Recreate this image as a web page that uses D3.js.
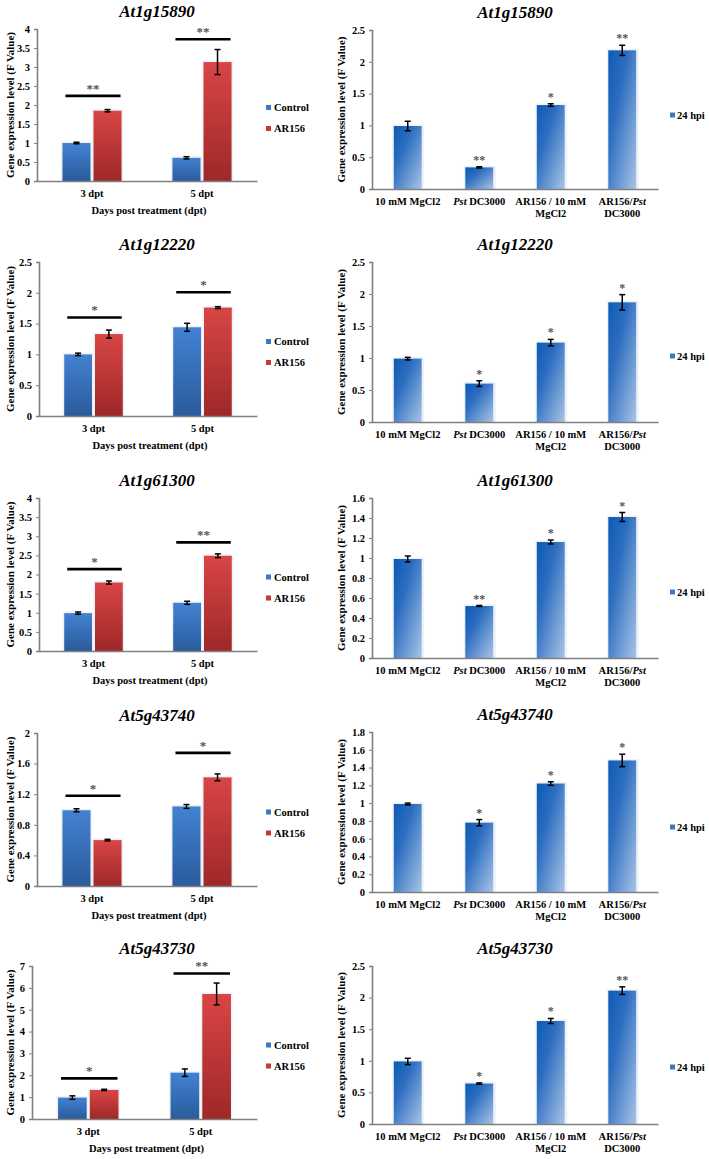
<!DOCTYPE html>
<html><head><meta charset="utf-8">
<script src="https://cdn.jsdelivr.net/npm/d3@7"></script>
<style>
html,body{margin:0;padding:0;background:#fff;}
svg{display:block;font-family:"Liberation Serif","Times New Roman",serif;font-weight:bold;}
</style></head>
<body>
<svg id="chart" width="709" height="1159"></svg>
<script>
// ---------- data ----------
const genes = ["At1g15890","At1g12220","At1g61300","At5g43740","At5g43730"];
const dptCategories = ["3 dpt","5 dpt"];
const seriesNames = ["Control","AR156"];
const controlMeans  = [[1.00,0.61],[1.00,1.44],[0.99,1.26],[0.99,1.04],[0.98,2.12]];
const controlErrors = [[0.02,0.03],[0.02,0.065],[0.03,0.04],[0.02,0.025],[0.08,0.17]];
const ar156Means    = [[1.85,3.13],[1.33,1.76],[1.79,2.49],[0.60,1.42],[1.33,5.72]];
const ar156Errors   = [[0.03,0.33],[0.065,0.015],[0.04,0.05],[0.01,0.045],[0.03,0.50]];
const sigLevels     = [[2.24,3.73],[1.60,2.01],[2.14,2.84],[1.18,1.74],[1.86,6.66]];
const sigLabels     = [["**","**"],["*","*"],["*","**"],["*","*"],["*","**"]];
const leftYMax      = [4,2.5,4,2,7];
const leftYStep     = [0.5,0.5,0.5,0.4,1];
const leftYTitle = "Gene expression level (F Value)";
const leftXTitle = "Days post treatment (dpt)";

const treatments = [["10 mM MgCl2"],["Pst DC3000"],["AR156 / 10 mM","MgCl2"],["AR156/Pst","DC3000"]];
const hpiSeries = "24 hpi";
const hpiMeans  = [[0.99,0.34,1.32,2.18],[0.99,0.60,1.24,1.87],[0.99,0.52,1.16,1.41],[0.99,0.78,1.22,1.48],[0.99,0.64,1.63,2.11]];
const hpiErrors = [[0.075,0.01,0.02,0.08],[0.02,0.045,0.05,0.12],[0.03,0.005,0.02,0.045],[0.01,0.035,0.02,0.07],[0.05,0.01,0.04,0.06]];
const hpiStars  = [["","**","*","**"],["","*","*","*"],["","**","*","*"],["","*","*","*"],["","*","*","**"]];
const rightYMax  = [2.5,2.5,1.6,1.8,2.5];
const rightYStep = [0.5,0.5,0.2,0.2,0.5];

// ---------- layout ----------
const leftTop    = [29,262,498,733,966];
const leftBottom = [181,416,651,886,1119];
const leftX0     = [37,39,39,37,32];
const leftX1 = 257;
const rightTop    = [30,262,498,732,966];
const rightBottom = [189,422,658,892,1124];
const rightX0 = 372, rightX1 = 658;
const rightLegendY = [115,356,592,827,1067];
const FONT = "Liberation Serif, Times New Roman, serif";

const svg = d3.select("#chart");
const defs = svg.append("defs");
function vgrad(id, top, bottom){
  const g = defs.append("linearGradient").attr("id",id).attr("x1",0).attr("y1",0).attr("x2",0).attr("y2",1);
  g.append("stop").attr("offset","0%").attr("stop-color",top);
  g.append("stop").attr("offset","100%").attr("stop-color",bottom);
}
vgrad("gBlue","#4282d2","#2a5b9c");
vgrad("gRed","#d94545","#9e2828");
const dg = defs.append("linearGradient").attr("id","gDiag").attr("x1",0).attr("y1",0).attr("x2",1).attr("y2",1);
dg.append("stop").attr("offset","0%").attr("stop-color","#0c5bb4");
dg.append("stop").attr("offset","35%").attr("stop-color","#2c6dc0");
dg.append("stop").attr("offset","100%").attr("stop-color","#a9c4e6");

const axisColor = "#808080";
const fmt = d => (+d.toFixed(2)).toString();

function styleAxis(g){
  g.attr("font-family",FONT).attr("font-size",null);
  g.selectAll("path.domain").attr("stroke",axisColor).attr("stroke-width",1.6);
  g.selectAll(".tick line").attr("stroke",axisColor).attr("stroke-width",1);
  g.selectAll(".tick text").attr("fill","#000").attr("font-size",10.5).attr("font-weight","bold")
    .attr("font-family",FONT);
}

function errorBar(g, cx, yv, err, y, capW){
  const top = y(yv+err), bot = y(Math.max(0,yv-err));
  g.append("line").attr("x1",cx).attr("x2",cx).attr("y1",top).attr("y2",bot).attr("stroke","#000").attr("stroke-width",1.5);
  [top,bot].forEach(v=>g.append("line").attr("x1",cx-capW).attr("x2",cx+capW).attr("y1",v).attr("y2",v).attr("stroke","#000").attr("stroke-width",1.5));
}

function title(x, y, text){
  svg.append("text").attr("x",x).attr("y",y).attr("text-anchor","middle")
    .attr("font-size",17).attr("font-style","italic").attr("font-weight","bold").text(text);
}

function yTitle(x, cy){
  svg.append("text").attr("transform",`translate(${x},${cy}) rotate(-90)`).attr("text-anchor","middle")
    .attr("dominant-baseline","central").attr("font-size",11).text(leftYTitle);
}

genes.forEach((gene,i)=>{
  // ----- left panel -----
  const y = d3.scaleLinear().domain([0,leftYMax[i]]).range([leftBottom[i],leftTop[i]]);
  const x0 = d3.scaleBand().domain(dptCategories).range([leftX0[i],leftX1]);
  const x1 = d3.scaleBand().domain(seriesNames).range([0,x0.bandwidth()]).paddingInner(0.097).paddingOuter(0.82);
  const ticks = d3.range(0, leftYMax[i]+1e-9, leftYStep[i]);
  const gL = svg.append("g");
  const barsG = gL.append("g");
  dptCategories.forEach((cat,ci)=>{
    const vals = [controlMeans[i][ci], ar156Means[i][ci]];
    const errs = [controlErrors[i][ci], ar156Errors[i][ci]];
    seriesNames.forEach((s,si)=>{
      const bx = x0(cat)+x1(s), bw = x1.bandwidth();
      barsG.append("rect").attr("x",bx-1.5).attr("y",y(vals[si])-1.5).attr("width",bw+3).attr("height",y(0)-y(vals[si])+1.5)
        .attr("fill","#eef1f6");
      barsG.append("rect").attr("x",bx).attr("y",y(vals[si])).attr("width",bw).attr("height",y(0)-y(vals[si]))
        .attr("fill", si===0 ? "url(#gBlue)" : "url(#gRed)");
      errorBar(barsG, bx+bw/2, vals[si], errs[si], y, 3);
    });
    // significance line
    const lx0 = x0(cat)+x1(seriesNames[0])+3, lx1 = x0(cat)+x1(seriesNames[1])+x1.bandwidth()-1;
    const ly = y(sigLevels[i][ci]);
    gL.append("line").attr("x1",lx0).attr("x2",lx1).attr("y1",ly).attr("y2",ly).attr("stroke","#000").attr("stroke-width",2.6);
    gL.append("text").attr("x",(lx0+lx1)/2).attr("y",ly-3).attr("text-anchor","middle")
      .attr("font-size",13).attr("fill","#555").text(sigLabels[i][ci]);
  });
  const ya = gL.append("g").attr("transform",`translate(${leftX0[i]},0)`)
    .call(d3.axisLeft(y).tickValues(ticks).tickFormat(fmt).tickSize(3).tickPadding(4));
  styleAxis(ya);
  const xa = gL.append("g").attr("transform",`translate(0,${leftBottom[i]})`)
    .call(d3.axisBottom(x0).tickSize(0).tickPadding(9));
  styleAxis(xa);
  gL.append("text").attr("x",(leftX0[i]+leftX1)/2+2).attr("y",leftBottom[i]+32.5).attr("text-anchor","middle")
    .attr("font-size",10.5).text(leftXTitle);
  title(157, leftTop[i]-12, gene);
  yTitle(10, (leftTop[i]+leftBottom[i])/2);
  // legend
  const ly = (leftTop[i]+leftBottom[i])/2;
  seriesNames.forEach((s,si)=>{
    const yy = ly + 2.5 + si*21;
    gL.append("rect").attr("x",266).attr("y",yy-2.5).attr("width",5).attr("height",5).attr("fill", si===0?"#3a78c8":"#c83636");
    gL.append("text").attr("x",274).attr("y",yy).attr("dominant-baseline","central").attr("font-size",10.5).text(s);
  });

  // ----- right panel -----
  const yr = d3.scaleLinear().domain([0,rightYMax[i]]).range([rightBottom[i],rightTop[i]]);
  const xr = d3.scaleBand().domain(d3.range(treatments.length)).range([rightX0,rightX1]).paddingInner(0.61).paddingOuter(0.305);
  const gR = svg.append("g");
  const rticks = d3.range(0, rightYMax[i]+1e-9, rightYStep[i]);
  hpiMeans[i].forEach((v,k)=>{
    const bx = xr(k), bw = xr.bandwidth();
    gR.append("rect").attr("x",bx-1.5).attr("y",yr(v)-1.5).attr("width",bw+4).attr("height",yr(0)-yr(v)+1.5).attr("fill","#edf2f9");
    gR.append("rect").attr("x",bx).attr("y",yr(v)).attr("width",bw).attr("height",yr(0)-yr(v)).attr("fill","url(#gDiag)");
    errorBar(gR, bx+bw/2, v, hpiErrors[i][k], yr, 3);
    if (hpiStars[i][k]) {
      gR.append("text").attr("x",bx+bw/2).attr("y",yr(v+hpiErrors[i][k])-3).attr("text-anchor","middle")
        .attr("font-size",12).attr("fill","#555").text(hpiStars[i][k]);
    }
  });
  const yra = gR.append("g").attr("transform",`translate(${rightX0},0)`)
    .call(d3.axisLeft(yr).tickValues(rticks).tickFormat(fmt).tickSize(3).tickPadding(4));
  styleAxis(yra);
  const xra = gR.append("g").attr("transform",`translate(0,${rightBottom[i]})`)
    .call(d3.axisBottom(xr).tickSize(0).tickFormat(""));
  styleAxis(xra);
  treatments.forEach((lines,k)=>{
    const cx = xr(k)+xr.bandwidth()/2;
    lines.forEach((line,li)=>{
      const t = gR.append("text").attr("x",cx).attr("y",rightBottom[i]+16+li*11.7).attr("text-anchor","middle").attr("font-size",10.5);
      const parts = line.split(/(Pst)/);
      parts.filter(p=>p!=="").forEach(p=>{
        t.append("tspan").attr("font-style", p==="Pst" ? "italic" : "normal").text(p);
      });
    });
  });
  title(515, rightTop[i]-12, gene);
  yTitle(341, (rightTop[i]+rightBottom[i])/2);
  gR.append("rect").attr("x",670).attr("y",rightLegendY[i]-2.5).attr("width",5).attr("height",5).attr("fill","#3a78c8");
  gR.append("text").attr("x",677).attr("y",rightLegendY[i]).attr("dominant-baseline","central").attr("font-size",10.5).text(hpiSeries);
});
</script>
</body></html>
